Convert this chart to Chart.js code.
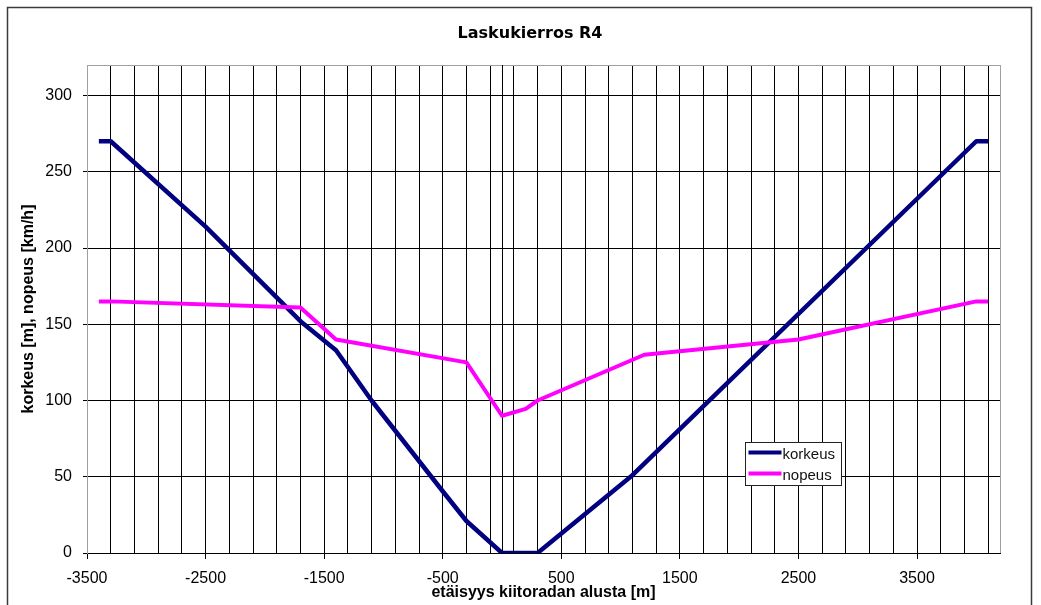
<!DOCTYPE html>
<html>
<head>
<meta charset="utf-8">
<script src="https://cdn.jsdelivr.net/npm/chart.js@4/dist/chart.umd.min.js"></script>
<style>
  html, body { margin: 0; padding: 0; background: #fff; }
  #wrap { width: 1041px; height: 605px; position: relative; }
</style>
</head>
<body>
<div id="wrap"><canvas id="c" width="1041" height="605"></canvas></div>
<script>
// ---- Data ----
const chartTitle = 'Laskukierros R4';
const xTitle = 'etäisyys kiitoradan alusta [m]';
const yTitle = 'korkeus [m], nopeus [km/h]';
const seriesNames = ['korkeus', 'nopeus'];

const korkeusX = [-3400, -3300, -2500, -1700, -1400, -1300, -1100, -500, -300, 0, 300, 1100, 4000, 4100];
const korkeusY = [270, 270, 214, 152, 133, 122, 100, 40.5, 21, 0, 0, 51, 270, 270];

const nopeusX = [-3400, -3300, -1700, -1400, -300, 0, 200, 300, 1200, 2500, 4000, 4100];
const nopeusY = [165, 165, 161, 140, 125, 90, 94.5, 100, 130, 140, 165, 165];

const xTickLabels = [-3500, -2500, -1500, -500, 500, 1500, 2500, 3500];
const yTickLabels = [0, 50, 100, 150, 200, 250, 300];
const xMin = -3500, xMax = 4200, xMinorStep = 200;
const yMin = 0, yMax = 320;

const toPoints = (xs, ys) => xs.map((x, i) => ({ x: x, y: ys[i] }));
const isMajorX = v => xTickLabels.includes(v);

// ---- Plugins for frame, title, x=0 axis line and in-plot legend ----
const framePlugin = {
  id: 'frame',
  beforeDraw(chart) {
    const ctx = chart.ctx;
    ctx.save();
    ctx.fillStyle = '#fff';
    ctx.fillRect(0, 0, chart.width, chart.height);
    ctx.strokeStyle = '#3a3a3a';
    ctx.lineWidth = 1.5;
    ctx.strokeRect(7.5, 7.5, 1024, 700);
    ctx.fillStyle = '#000';
    ctx.font = 'bold 16px "DejaVu Sans", Tahoma, sans-serif';
    ctx.textAlign = 'center';
    ctx.textBaseline = 'middle';
    ctx.fillText(chartTitle, 530, 34);
    ctx.restore();
  },
  beforeDatasetsDraw(chart) {
    const ctx = chart.ctx;
    const xs = chart.scales.x;
    const a = chart.chartArea;
    const px = Math.round(xs.getPixelForValue(0)) + 0.5;
    ctx.save();
    ctx.strokeStyle = '#000';
    ctx.lineWidth = 1;
    ctx.beginPath();
    ctx.moveTo(px, a.top);
    ctx.lineTo(px, a.bottom);
    ctx.stroke();
    ctx.restore();
  },
  afterDatasetsDraw(chart) {
    const ctx = chart.ctx;
    const bx = 745.5, by = 442.5, bw = 96, bh = 43;
    ctx.save();
    ctx.fillStyle = '#fff';
    ctx.fillRect(bx, by, bw, bh);
    ctx.strokeStyle = '#222';
    ctx.lineWidth = 1;
    ctx.strokeRect(bx, by, bw, bh);
    [0, 1].forEach((di, i) => {
      const ds = chart.data.datasets[di];
      const cy = by + 10 + i * 21;
      ctx.strokeStyle = ds.borderColor;
      ctx.lineWidth = 4;
      ctx.beginPath();
      ctx.moveTo(bx + 3, cy);
      ctx.lineTo(bx + 36, cy);
      ctx.stroke();
      ctx.fillStyle = '#111';
      ctx.font = '15px "Liberation Sans", Arial, sans-serif';
      ctx.textBaseline = 'middle';
      ctx.textAlign = 'left';
      ctx.fillText(ds.label, bx + 37, cy + 2);
    });
    ctx.restore();
  }
};

const tickFont = { family: '"Liberation Sans", Arial, sans-serif', size: 16 };
const titleFont = { family: '"Liberation Sans", Arial, sans-serif', size: 16, weight: 'bold' };

new Chart(document.getElementById('c'), {
  type: 'scatter',
  data: {
    datasets: [
      {
        label: seriesNames[0],
        data: toPoints(korkeusX, korkeusY),
        showLine: true,
        borderColor: '#000080',
        backgroundColor: '#000080',
        borderWidth: 4.5,
        pointRadius: 0,
        borderJoinStyle: 'round',
        tension: 0,
        order: 1
      },
      {
        label: seriesNames[1],
        data: toPoints(nopeusX, nopeusY),
        showLine: true,
        borderColor: '#FF00FF',
        backgroundColor: '#FF00FF',
        borderWidth: 4,
        pointRadius: 0,
        borderJoinStyle: 'round',
        tension: 0,
        order: 0
      }
    ]
  },
  options: {
    responsive: false,
    animation: false,
    layout: { padding: { left: 0, right: 41, top: 65, bottom: 0 } },
    plugins: {
      legend: { display: false },
      tooltip: { enabled: false },
      title: { display: false }
    },
    scales: {
      x: {
        type: 'linear',
        min: xMin,
        max: xMax,
        afterFit(scale) { scale.height = 52; },
        afterBuildTicks(scale) {
          const t = [];
          for (let v = xMin; v < xMax; v += xMinorStep) t.push({ value: v });
          t.push({ value: xMax });
          scale.ticks = t;
        },
        ticks: {
          autoSkip: false,
          maxRotation: 0,
          color: '#000',
          font: tickFont,
          padding: 10,
          callback: v => isMajorX(v) ? String(v) : ''
        },
        grid: {
          color: c => (c.tick && (c.tick.value === xMin || c.tick.value === xMax)) ? '#a0a0a0' : '#000',
          tickColor: c => (c.tick && isMajorX(c.tick.value)) ? '#000' : 'rgba(0,0,0,0)',
          tickLength: 6,
          lineWidth: 1
        },
        border: { display: true, color: '#000', width: 1 },
        title: {
          display: true,
          text: xTitle,
          color: '#000',
          font: titleFont,
          padding: { top: 0, bottom: 3 }
        }
      },
      y: {
        type: 'linear',
        min: yMin,
        max: yMax,
        afterFit(scale) { scale.width = 87; },
        afterBuildTicks(scale) {
          scale.ticks = yTickLabels.map(v => ({ value: v })).concat([{ value: yMax }]);
        },
        ticks: {
          color: '#000',
          font: tickFont,
          padding: 11,
          callback: v => yTickLabels.includes(v) ? String(v) : ''
        },
        grid: {
          color: c => (c.tick && c.tick.value === yMax) ? '#a0a0a0' : '#000',
          tickColor: c => (c.tick && yTickLabels.includes(c.tick.value)) ? '#000' : 'rgba(0,0,0,0)',
          tickLength: 4,
          lineWidth: 1
        },
        border: { display: true, color: '#a0a0a0', width: 1 },
        title: {
          display: true,
          text: yTitle,
          color: '#000',
          font: titleFont,
          padding: { top: 19, bottom: 0 }
        }
      }
    }
  },
  plugins: [framePlugin]
});
</script>
</body>
</html>
